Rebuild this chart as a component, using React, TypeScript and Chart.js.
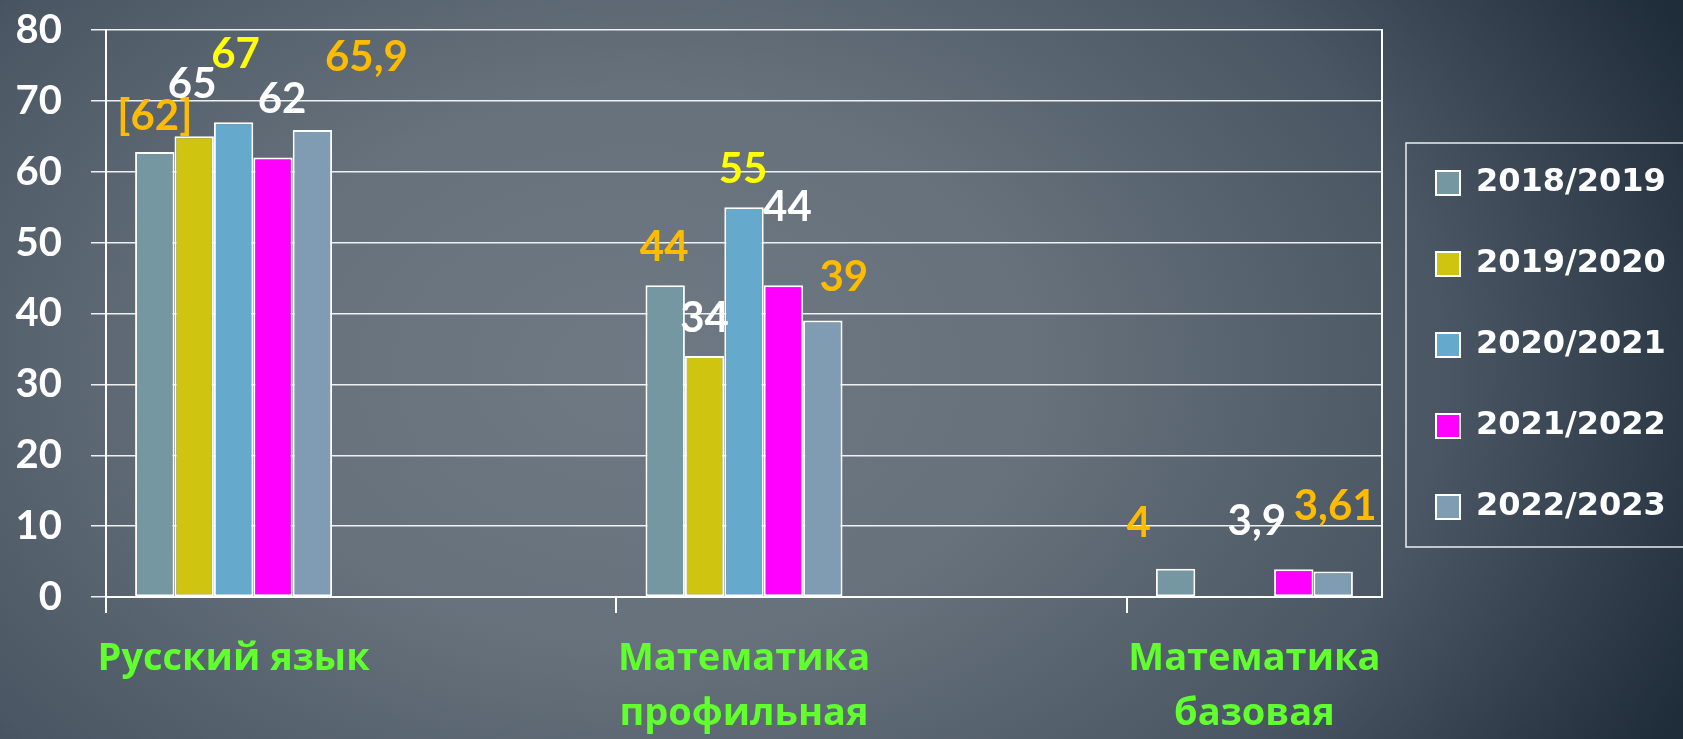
import React, { useEffect, useRef } from 'react';
import { Chart, registerables } from 'chart.js';

Chart.register(...registerables);

// ---------------- data ----------------
const categories: string[][] = [['Русский язык'], ['Математика', 'профильная'], ['Математика', 'базовая']];
const seriesNames = ['2018/2019', '2019/2020', '2020/2021', '2021/2022', '2022/2023'];
const values2018 = [62.8, 44, 4];
const values2019 = [65, 34, null];
const values2020 = [67, 55, null];
const values2021 = [62, 44, 3.9];
const values2022 = [65.9, 39, 3.61];
const labels2018 = ['[62]', '44', '4'];
const labels2019 = ['65', '34', ''];
const labels2020 = ['67', '55', ''];
const labels2021 = ['62', '44', '3,9'];
const labels2022 = ['65,9', '39', '3,61'];
const yTicks = [0, 10, 20, 30, 40, 50, 60, 70, 80];

// ---------------- styles ----------------
const seriesValues = [values2018, values2019, values2020, values2021, values2022];
const seriesLabels = [labels2018, labels2019, labels2020, labels2021, labels2022];
const seriesColors = ['#7597a2', '#cfc40f', '#65a9cc', '#ff00ff', '#7f9cb3'];
const labelColors = ['#ffbb00', '#ffffff', '#ffff00', '#ffffff', '#ffbb00'];
// label nudges relative to the top-centre of each bar (px)
const labelNudges: number[][][] = [
  [[0, -22], [-1, -24], [-37, -32]],
  [[-2, -38], [0, -24], [0, 0]],
  [[2, -54], [-1, -24], [0, 0]],
  [[9, -45], [4, -64], [-37, -34]],
  [[54, -59], [21, -30], [2, -51]],
];
const CANVAS_W = 1710;
const CANVAS_H = 739;
const FONT = 'Lato, "Open Sans", sans-serif';
const CAT_FONT = '"Open Sans", Lato, sans-serif';
const LEGEND_FAMILY = "'DejaVu Sans'";
const LEGEND_SIZE = 32;
const LEGEND_PAD = 49;
const LEGEND_BOX = 24;
const GREEN = '#62ff2f';
const GRID = 'rgba(255,255,255,0.9)';

const valueLabelPlugin = {
  id: 'valueLabels',
  afterDatasetsDraw(chart: any) {
    const ctx = chart.ctx;
    ctx.save();
    ctx.font = `bold 42px ${FONT}`;
    ctx.textAlign = 'center';
    ctx.textBaseline = 'alphabetic';
    chart.data.datasets.forEach((ds: any, i: number) => {
      const meta = chart.getDatasetMeta(i);
      meta.data.forEach((bar: any, j: number) => {
        const text = seriesLabels[i][j];
        if (!text || seriesValues[i][j] == null) return;
        const [dx, dy] = labelNudges[i][j];
        ctx.fillStyle = labelColors[i];
        ctx.fillText(text, bar.x + dx, bar.y + dy);
      });
    });
    ctx.restore();
  },
};

const legendFramePlugin = {
  id: 'legendFrame',
  afterDraw(chart: any) {
    const lg = chart.legend;
    if (!lg || !lg.legendHitBoxes || !lg.legendHitBoxes.length) return;
    const hb = lg.legendHitBoxes;
    const first = hb[0];
    const last = hb[hb.length - 1];
    const ctx = chart.ctx;
    ctx.save();
    ctx.strokeStyle = 'rgba(255,255,255,0.9)';
    ctx.lineWidth = 1.5;
    const x0 = first.left - 30;
    const y0 = first.top - 24;
    const y1 = last.top + last.height + 24;
    ctx.strokeRect(x0, y0, chart.width + 20 - x0, y1 - y0);
    ctx.restore();
  },
};

export default function App() {
  const ref = useRef<HTMLCanvasElement>(null);

  useEffect(() => {
    const canvas = ref.current;
    if (!canvas) return;
    const mctx = document.createElement('canvas').getContext('2d')!;
    mctx.font = `bold ${LEGEND_SIZE}px ${LEGEND_FAMILY}`;
    const textW = Math.max(...seriesNames.map((n) => mctx.measureText(n).width));
    const legendW = LEGEND_PAD + LEGEND_BOX + LEGEND_SIZE / 2 + textW + 10;
    const padRight = Math.max(0, CANVAS_W - 1387 - legendW);

    const chart = new Chart(canvas, {
      type: 'bar',
      data: {
        datasets: seriesNames.map((name, i) => ({
          label: name,
          data: seriesValues[i].map((v, j) => ({ x: j, y: v })),
          backgroundColor: seriesColors[i],
          borderColor: '#ffffff',
          borderWidth: 2,
          borderSkipped: false,
          barPercentage: 1,
          categoryPercentage: 0.386,
          xAxisID: 'x',
          yAxisID: 'y',
        })) as any,
      },
      plugins: [valueLabelPlugin, legendFramePlugin],
      options: {
        responsive: false,
        animation: false,
        layout: { padding: { top: 30, bottom: 0, left: 0, right: padRight } },
        scales: {
          x: {
            type: 'linear',
            position: 'bottom',
            weight: 1,
            min: -0.25,
            max: 2.25,
            offset: false,
            afterBuildTicks: (scale: any) => {
              scale.ticks = categories.map((_, i) => ({ value: i }));
            },
            afterFit: (scale: any) => {
              scale.height = 126;
              scale.paddingLeft = 0;
              scale.paddingRight = 0;
            },
            grid: { display: false, drawTicks: false, offset: false },
            border: { display: false },
            ticks: {
              autoSkip: false,
              maxRotation: 0,
              minRotation: 0,
              padding: 19,
              color: GREEN,
              font: { family: CAT_FONT, weight: 'bold', size: 38, lineHeight: 1.447 },
              callback: (v: any) => categories[Math.round(Number(v))] ?? '',
            },
          },
          xTicks: {
            type: 'linear',
            position: 'bottom',
            weight: 0,
            min: -0.25,
            max: 2.25,
            offset: false,
            afterBuildTicks: (scale: any) => {
              scale.ticks = categories.map((_, i) => ({ value: i - 0.25 }));
            },
            grid: { display: true, offset: false, drawOnChartArea: false, drawTicks: true, tickLength: 16, color: '#ffffff', lineWidth: 2 },
            border: { display: true, color: '#ffffff', width: 2 },
            ticks: { display: false },
          },
          y: {
            type: 'linear',
            position: 'left',
            min: 0,
            max: 80,
            afterBuildTicks: (scale: any) => {
              scale.ticks = yTicks.map((v) => ({ value: v }));
            },
            afterFit: (scale: any) => {
              scale.width = 106;
              scale.paddingTop = 20;
              scale.paddingBottom = 20;
            },
            grid: { color: GRID, lineWidth: 1.5, tickLength: 15, drawTicks: true },
            border: { display: true, color: '#ffffff', width: 2 },
            ticks: {
              padding: 29,
              color: '#ffffff',
              font: { family: FONT, weight: 'bold', size: 40 },
            },
          },
          yRight: {
            type: 'linear',
            position: 'right',
            min: 0,
            max: 80,
            afterFit: (scale: any) => {
              scale.width = 5;
              scale.paddingTop = 0;
              scale.paddingBottom = 0;
            },
            grid: { display: false, drawTicks: false },
            border: { display: true, color: '#ffffff', width: 2 },
            ticks: { display: false },
          },
        },
        plugins: {
          legend: {
            position: 'right',
            align: 'start',
            maxWidth: 800,
            title: {
              display: true,
              text: '',
              color: 'rgba(0,0,0,0)',
              font: { size: 10, lineHeight: 1.2 },
              padding: { top: 38, bottom: 38 },
            },
            labels: {
              boxWidth: LEGEND_BOX,
              boxHeight: LEGEND_BOX,
              padding: LEGEND_PAD,
              color: '#ffffff',
              font: { family: LEGEND_FAMILY, weight: 'bold', size: LEGEND_SIZE },
            },
          },
          tooltip: { enabled: false },
        },
      } as any,
    });
    return () => chart.destroy();
  }, []);

  return (
    <div
      style={{
        position: 'fixed',
        left: 0,
        top: 0,
        width: 1683,
        height: 739,
        overflow: 'hidden',
        background:
          'radial-gradient(ellipse 1150px 800px at 38% 50%, #6e7983 0%, #66717b 35%, #4a5663 70%, #1f2c3a 100%)',
      }}
    >
      <canvas ref={ref} width={CANVAS_W} height={CANVAS_H} style={{ display: 'block', width: CANVAS_W, height: CANVAS_H }} />
    </div>
  );
}
